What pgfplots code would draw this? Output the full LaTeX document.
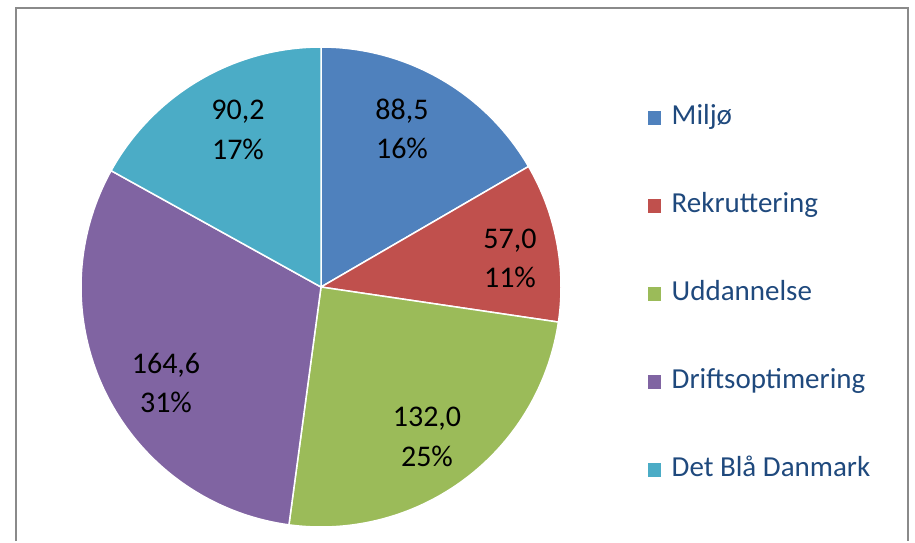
\documentclass[border=0pt]{standalone}
\usepackage{pgfplots}
\pgfplotsset{compat=1.18}
\usepackage{pgfplotstable}
\usepackage{fontspec}
\setmainfont{Carlito}
\definecolor{cMil}{HTML}{4F81BD}
\definecolor{cRek}{HTML}{C0504D}
\definecolor{cUdd}{HTML}{9BBB59}
\definecolor{cDri}{HTML}{8064A2}
\definecolor{cDet}{HTML}{4BACC6}
\definecolor{legtext}{HTML}{1F497D}
\definecolor{framegray}{HTML}{8A8A8A}

\pgfplotstableread{
value pct lx  ly
88.5  16  402 129
57.0  11  510 258.5
132.0 25  427 437
164.6 31  166 383
90.2  17  238 130
}\piedata

\newcommand\getv[3]{\pgfplotstablegetelem{#1}{#2}\of\piedata\global\let#3\pgfplotsretval}
\getv{0}{value}\vA \getv{1}{value}\vB \getv{2}{value}\vC \getv{3}{value}\vD \getv{4}{value}\vE
\getv{0}{pct}\pA \getv{1}{pct}\pB \getv{2}{pct}\pC \getv{3}{pct}\pD \getv{4}{pct}\pE
\getv{0}{lx}\xA \getv{1}{lx}\xB \getv{2}{lx}\xC \getv{3}{lx}\xD \getv{4}{lx}\xE
\getv{0}{ly}\yA \getv{1}{ly}\yB \getv{2}{ly}\yC \getv{3}{ly}\yD \getv{4}{ly}\yE

\pgfmathsetmacro\total{\vA+\vB+\vC+\vD+\vE}
\pgfmathsetmacro\aA{0}
\pgfmathsetmacro\aB{\aA+360*(\vA/\total)}
\pgfmathsetmacro\aC{\aB+360*(\vB/\total)}
\pgfmathsetmacro\aD{\aC+360*(\vC/\total)}
\pgfmathsetmacro\aE{\aD+360*(\vD/\total)}
\def\aF{360}

\def\cx{321}\def\cy{287}\def\rr{240}

\newcommand\pieslice[4]{%
  \edef\tmp{\noexpand\addplot[fill=#3, draw=white, line width=1.5pt, line join=round,
    domain=#1:#2, samples=90, variable=\noexpand\t]
    ({\cx+\rr*sin(\noexpand\t)},{\cy-\rr*cos(\noexpand\t)}) -- (axis cs:\cx,\cy) -- cycle;}%
  \tmp
  \addlegendentry{#4}}

\newcommand\pielabel[4]{% x y value pct
  \edef\tmp{\noexpand\node[align=center, font=\noexpand\fontsize{30}{39.5}\noexpand\selectfont, text=black]
    at (axis cs:#1,#2) {\noexpand\pgfmathprintnumber[fixed, fixed zerofill, precision=1, use comma, assume math mode=true]{#3}\noexpand\\#4\noexpand\%};}%
  \tmp}

\begin{document}
\begin{tikzpicture}
\begin{axis}[
  scale only axis, width=915pt, height=541pt,
  xmin=0, xmax=915, ymin=0, ymax=541, y dir=reverse,
  hide axis, clip=false,
  legend cell align=left,
  legend image code/.code={\fill (0pt,-7.5pt) rectangle (15pt,7.5pt);},
  legend style={at={(axis cs:643,103)}, anchor=north west, draw=none, fill=none,
    font=\fontsize{29}{34}\selectfont, text=legtext, row sep=62pt,
    nodes={inner sep=0pt, text height=19pt, text depth=7pt},
    /tikz/every odd column/.append style={column sep=9pt}},
]
\addplot[draw=none, forget plot] coordinates {(0,0) (915,541)};
\draw[framegray, line width=2pt] (axis cs:16,541) -- (axis cs:16,8) -- (axis cs:908,8) -- (axis cs:908,541);
\pieslice{\aA}{\aB}{cMil}{Miljø}
\pieslice{\aB}{\aC}{cRek}{Rekruttering}
\pieslice{\aC}{\aD}{cUdd}{Uddannelse}
\pieslice{\aD}{\aE}{cDri}{Driftsoptimering}
\pieslice{\aE}{\aF}{cDet}{Det Blå Danmark}
\pielabel{\xA}{\yA}{\vA}{\pA}
\pielabel{\xB}{\yB}{\vB}{\pB}
\pielabel{\xC}{\yC}{\vC}{\pC}
\pielabel{\xD}{\yD}{\vD}{\pD}
\pielabel{\xE}{\yE}{\vE}{\pE}
\end{axis}
\end{tikzpicture}
\end{document}
